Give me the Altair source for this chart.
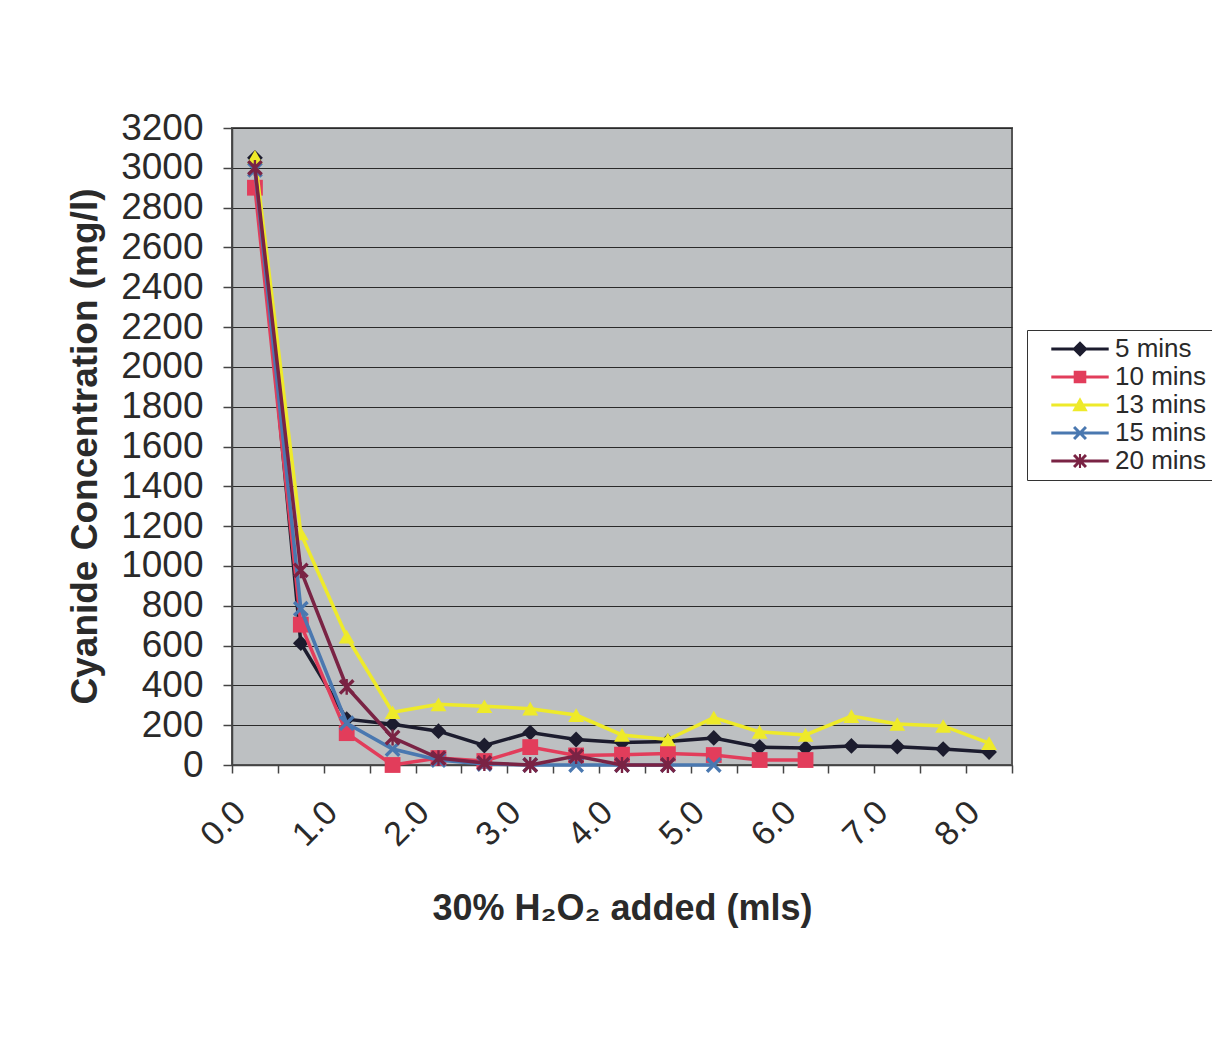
import altair as alt
import pandas as pd

# ---- data ----
X = [0.0, 0.5, 1.0, 1.5, 2.0, 2.5, 3.0, 3.5, 4.0, 4.5, 5.0, 5.5, 6.0, 6.5, 7.0, 7.5, 8.0]
SERIES = ["5 mins", "10 mins", "13 mins", "15 mins", "20 mins"]
M5 = [3050, 612, 230, 205, 170, 98, 163, 128, 113, 118, 136, 90, 85, 96, 92, 80, 65]
M10 = [2900, 705, 160, 0, 35, 20, 90, 48, 52, 58, 50, 25, 25, None, None, None, None]
M13 = [3055, 1163, 645, 265, 305, 295, 283, 251, 151, 128, 238, 166, 151, 246, 206, 196, 110]
M15 = [2990, 785, 210, 80, 25, 5, 0, 0, 0, 0, 0, None, None, None, None, None, None]
M20 = [3000, 978, 392, 138, 35, 10, 0, 45, 0, 0, None, None, None, None, None, None, None]
Y_TICKS = [0, 200, 400, 600, 800, 1000, 1200, 1400, 1600, 1800, 2000, 2200,
           2400, 2600, 2800, 3000, 3200]

COLORS = ["#1c1c2e", "#e23d5b", "#eeea2a", "#4a78b0", "#7a2344"]

X_PATH = "M-1,-0.7L-0.7,-1L0,-0.3L0.7,-1L1,-0.7L0.3,0L1,0.7L0.7,1L0,0.3L-0.7,1L-1,0.7L-0.3,0Z"
STAR_PATH = X_PATH + "M-0.15,-1H0.15V1H-0.15Z"
PLOT_SHAPES = ["diamond", "square", "triangle-up", X_PATH, STAR_PATH]

LINE_PATH = "M-4.1,-0.2H4.1V0.2H-4.1Z"
LEGEND_MARKERS = [
    "M-1.1,0L0,-1.1L1.1,0L0,1.1Z",
    "M-0.9,-0.9H0.9V0.9H-0.9Z",
    "M0,-1.1L1.1,0.9H-1.1Z",
    X_PATH,
    STAR_PATH,
]
LEGEND_SHAPES = [LINE_PATH + mk for mk in LEGEND_MARKERS]

rows = []
for name, vals in zip(SERIES, [M5, M10, M13, M15, M20]):
    for xv, yv in zip(X, vals):
        if yv is not None:
            rows.append({"x": xv, "y": yv, "series": name})
df = pd.DataFrame(rows)

# category boundaries for tick marks (Excel category axis)
BOUNDS = [xv - 0.25 for xv in X] + [X[-1] + 0.25]

FONT = "Liberation Sans"

x_axis = alt.Axis(
    values=BOUNDS,
    labelExpr="((datum.value + 0.25) % 1 == 0) ? format(datum.value + 0.25, '.1f') : ''",
    labelAngle=-45,
    labelAlign="right",
    labelBaseline="middle",
    labelOffset=8,
    labelPadding=34,
    labelOverlap=False,
    labelFontSize=34,
    labelFont=FONT,
    labelColor="#2a2a2a",
    tickSize=8,
    tickColor="#444444",
    tickWidth=1.5,
    domainColor="#444444",
    domainWidth=1.5,
    grid=False,
    title="30% H₂O₂ added (mls)",
    titleFont=FONT,
    titleFontSize=36,
    titleFontWeight="bold",
    titleColor="#2a2a2a",
    titleX=390,
    titleY=143,
    titleBaseline="middle",
)

y_axis = alt.Axis(
    values=Y_TICKS,
    format="d",
    labelFontSize=37,
    labelFont=FONT,
    labelColor="#2a2a2a",
    labelPadding=20,
    tickSize=9,
    tickColor="#444444",
    tickWidth=1.5,
    domainColor="#444444",
    domainWidth=1.5,
    grid=True,
    gridColor="#2a2a2a",
    gridWidth=1,
    title="Cyanide Concentration (mg/l)",
    titleFont=FONT,
    titleFontSize=37,
    titleFontWeight="bold",
    titleColor="#2a2a2a",
    titleX=-147,
    titleY=318,
    titleAngle=-90,
    titleAlign="center",
    titleBaseline="middle",
)

xenc = alt.X("x:Q", scale=alt.Scale(domain=[BOUNDS[0], BOUNDS[-1]], nice=False, zero=False), axis=x_axis)
yenc = alt.Y("y:Q", scale=alt.Scale(domain=[0, 3200], nice=False), axis=y_axis)

base = alt.Chart(df)

layers = []
for name, col, shp in zip(SERIES, COLORS, PLOT_SHAPES):
    sub = base.transform_filter(alt.datum.series == name)
    layers.append(
        sub.mark_line(strokeWidth=3.5, color=col).encode(x=xenc, y=yenc)
    )
    layers.append(
        sub.mark_point(filled=True, size=250, opacity=1, shape=shp, color=col).encode(x=xenc, y=yenc)
    )

legend_spec = alt.Legend(
    title=None,
    orient="none",
    legendX=795,
    legendY=202,
    symbolSize=196,
    symbolStrokeWidth=0,
    symbolOpacity=1,
    symbolOffset=34,
    labelOffset=22,
    labelFont=FONT,
    labelFontSize=26,
    labelColor="#2a2a2a",
    rowPadding=2,
    padding=6,
    strokeColor="#333333",
    fillColor="white",
)

legend_layer = (
    base.transform_filter("false")
    .mark_point(filled=True)
    .encode(
        x=xenc,
        y=yenc,
        color=alt.Color("series:N", scale=alt.Scale(domain=SERIES, range=COLORS), legend=legend_spec),
        shape=alt.Shape("series:N", scale=alt.Scale(domain=SERIES, range=LEGEND_SHAPES), legend=legend_spec),
    )
)

chart = (
    alt.layer(*layers, legend_layer)
    .properties(
        width=780,
        height=637,
        background="white",
        autosize=alt.AutoSizeParams(type="none"),
        padding={"left": 224, "top": 120, "right": 200, "bottom": 260},
    )
    .configure_view(fill="#bdc0c2", stroke="#555555", strokeWidth=2)
)

chart.save("out.html", embed_options={"renderer": "svg", "actions": False})
